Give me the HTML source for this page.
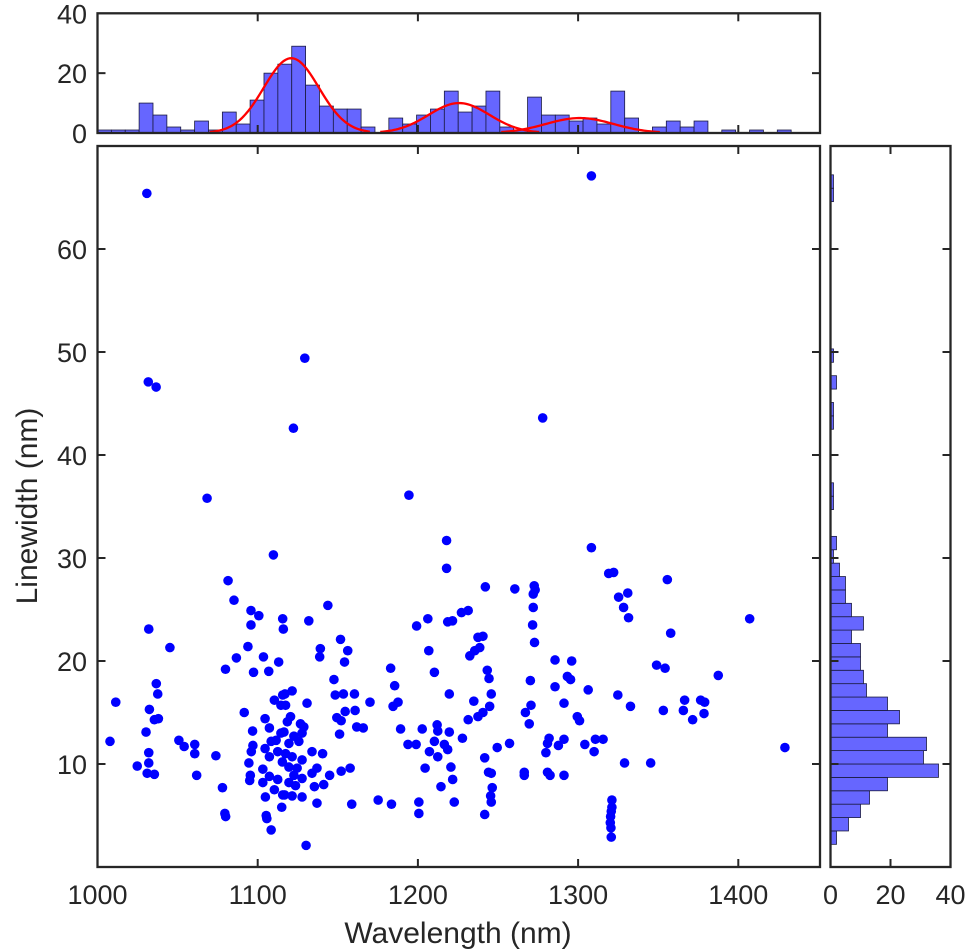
<!DOCTYPE html>
<html><head><meta charset="utf-8"><style>
html,body{margin:0;padding:0;background:#fff;}
svg{display:block;font-family:"Liberation Sans",Arial,sans-serif;}
</style></head><body>
<svg id="chart" width="969" height="952" viewBox="0 0 969 952">
<g id="top"></g>
<g id="main"></g>
<g id="side"></g>
<g id="axes"></g>
</svg>
<script>
const wavelength = [
1109.8,1081.5,1085.2,1095.8,1100.7,1095.8,1032,1045.2,1093.9,1086.7,1103.6,1113.1,1079.9,1097.4,1106.9,1036.7,1037.6,1011.4,1032.4,1091.6,1035.5,1038,1110.4,1114.5,1104.6,1030.3,1096.8,1107.3,1007.8,1050.8,1054.1,1060.7,1060.7,1032,1073.9,1097,1096,1104.6,1108.4,1111.5,1107.3,1032,1024.8,1031,1035.5,1061.9,1094.5,1095.4,1095,1103.2,1103.2,1107.3,1110.4,1112.5,1078,1104.8,1115.6,1079.5,1080,1105.3,1105.7,1108.4,1115,1115.6,1116,1115.6,1114.5,1112.5,
1143.8,1131.9,1151.7,1139.1,1138.7,1156.2,1154.2,1147.6,1121.5,1117,1148.4,1153.5,1160.4,1170.1,1130.8,1117.4,1154.6,1160.8,1149.4,1152.1,1120.5,1118.5,1126.7,1128.8,1161.8,1165.9,1151.1,1116.4,1122.6,1127.7,1119.5,1125.7,1133.9,1140.5,1117.4,1121.5,1127.7,1115.4,1119.5,1124.6,1137,1133.9,1122.6,1127.7,1144.9,1152.1,1157.7,1119.5,1123.6,1135.4,1141.2,1116.8,1121.5,1127.7,1137,1158.7,1175.2,1183.5,1130.2,1183,1185.5,1187.6,1184.5,1189.2,1193.8,1198.9,1202.7,1199.2,1206.2,1206.8,1210.3,1219.6,1217.9,1217.9,1218.6,1221.6,1212,1212.4,1219.6,1210.3,1216.5,1207.2,1212.4,1218.6,1204.5,1220.6,1221.7,1214.4,1200.6,1200.6,1222.7,
1231.4,1227.2,1242.1,1260.5,1272.6,1273.2,1272,1272,1271.6,1272.8,1308.3,1319.1,1322.2,1331,1325.3,1328.4,1331.5,1237.5,1240.6,1238.6,1235.5,1232.4,1285.6,1296,1243.3,1244.4,1270.2,1285.6,1293.3,1295.3,1306.3,1324.8,1332.7,1245.8,1234.9,1244.8,1240.6,1237.5,1231.4,1270.6,1267.1,1269.5,1291.2,1299.5,1300.9,1227.8,1257.2,1249.5,1241.7,1281.9,1280.9,1279.9,1287.7,1291.2,1304.2,1310.8,1315.6,1310,1329,1244.1,1245.8,1266.4,1266.4,1280.9,1282.5,1291.2,1246.4,1245.4,1245.8,1241.7,1321.1,1321.1,1320.7,1320.3,1320.1,1320.5,1320.7,
1355.7,1407.1,1357.8,1349,1354.3,1387.5,1353.2,1366.5,1376.5,1379,1365.7,1378.6,1371.5,1429.1,1345.3,
1030.8,1308.3,1031.7,1036.6,1129.4,1122.3,1277.9,1068.4,1194.4
];
const linewidth = [
30.3,27.8,25.9,24.9,24.4,23.5,23.1,21.3,21.4,20.3,20.4,19.9,19.2,18.9,19.0,17.8,16.8,16.0,15.3,15.0,14.3,14.4,16.2,15.7,14.4,13.1,13.2,13.5,12.2,12.3,11.7,11.9,11.0,11.1,10.8,11.8,11.2,11.5,12.2,12.3,10.7,10.1,9.8,9.1,9.0,8.9,10.1,8.9,8.4,9.5,8.2,8.8,7.5,8.5,7.7,6.8,7.0,5.2,4.9,5.0,4.7,3.6,5.8,24.1,23.1,16.7,13.0,11.2,
25.4,23.9,22.1,21.2,20.4,21.0,19.9,18.2,17.1,16.8,16.7,16.8,16.8,16.0,15.9,15.7,15.1,15.2,14.5,14.2,14.6,14.1,13.9,13.6,13.6,13.5,12.9,13.1,12.7,13.0,12.0,12.2,11.2,11.0,11.0,10.7,10.4,10.2,9.7,9.6,9.6,9.1,8.9,8.6,8.9,9.3,9.6,8.2,7.9,7.8,8.0,7.0,6.9,6.8,6.2,6.1,6.5,6.1,2.1,19.3,17.6,16.0,15.6,13.4,11.9,11.9,13.4,23.4,24.1,21.0,18.9,16.8,31.7,29.0,23.8,23.9,13.8,13.2,13.1,12.2,11.9,11.2,10.7,11.4,9.6,9.7,8.5,7.8,6.3,5.2,6.3,
24.9,24.7,27.2,27.0,27.3,26.9,26.5,25.2,23.5,21.8,31.0,28.5,28.6,26.6,26.2,25.2,24.2,22.3,22.4,21.3,21.0,20.5,20.1,20.0,19.1,18.3,18.1,17.5,18.5,18.2,17.2,16.7,15.6,16.8,16.1,15.6,15.0,14.6,14.3,15.7,15.0,13.9,15.9,14.6,14.2,12.5,12.0,11.6,10.6,12.5,12.0,11.1,11.8,12.4,11.9,12.4,12.4,11.2,10.1,9.2,9.1,9.2,8.9,9.2,8.9,8.9,7.7,6.9,6.3,5.1,6.5,5.8,5.4,4.9,4.3,3.8,2.9,
27.9,24.1,22.7,19.6,19.3,18.6,15.2,16.2,16.2,16.0,15.2,14.9,14.3,11.6,10.1,
65.4,67.1,47.1,46.6,49.4,42.6,43.6,35.8,36.1
];
const topCounts = [1,1,1,10,6,2,1,4,1,7,3,11,20,23,29,16,9,8,8,2,0,5,3,6,8,14,7,9,14,2,1,12,6,6,4,5,3,14,5,0,2,4,2,4,0,1,0,1,0,1];
const sideCounts = [2,6,10,13,19,36,31,32,19,23,19,12,11,10,10,7,11,7,5,5,3,1,2,0,0,1,1,0,0,0,0,1,1,0,2,0,1,0,0,0,0,0,0,0,0,0,0,0,1,1];
const fitCenters = [1121,1225.7,1301];
const fitHeights = [25,10,5];
const fitSigmas = [17.2,19,21];
const fitStarts = [1070,1176.5,1252];
const fitEnds = [1170,1275.7,1351];
const xTicks = [1000,1100,1200,1300,1400];
const yTicks = [10,20,30,40,50,60];
const topYTicks = [0,20,40];
const sideXTicks = [0,20,40];

const NS='http://www.w3.org/2000/svg';
const X0=97.5,X1=820,XMIN=1000,XMAX=1451;
const sx=v=>X0+(v-XMIN)/(XMAX-XMIN)*(X1-X0);
const MY0=867,MY1=146,YMIN=0,YMAX=70;
const sy=v=>MY0-(v-YMIN)/(YMAX-YMIN)*(MY0-MY1);
const TY0=133,TY1=13.3;
const ty=v=>TY0-v/40*(TY0-TY1);
const SX0=830.5,SX1=950.5;
const ssx=v=>SX0+v/40*(SX1-SX0);
const topBinLo=1000,topBinW=8.66;
const sideBinLo=2.2,sideBinW=1.3;

function mk(tag,attrs,parent){const e=document.createElementNS(NS,tag);for(const k in attrs)e.setAttribute(k,attrs[k]);parent.appendChild(e);return e;}
const gTop=document.getElementById('top'),gMain=document.getElementById('main'),gSide=document.getElementById('side'),gAx=document.getElementById('axes');

topCounts.forEach((c,i)=>{
  if(c<=0)return;
  const r=mk('rect',{x:sx(topBinLo+i*topBinW),y:ty(c),width:sx(topBinLo+(i+1)*topBinW)-sx(topBinLo+i*topBinW),height:ty(0)-ty(c),fill:'#6666ff',stroke:'#1a1a40','stroke-width':0.8},gTop);
  
  
});
fitCenters.forEach((c,k)=>{
  let d='';
  for(let i=0;i<=80;i++){const v=fitStarts[k]+(fitEnds[k]-fitStarts[k])*i/80;const h=fitHeights[k]*Math.exp(-0.5*Math.pow((v-c)/fitSigmas[k],2));d+=(i?'L':'M')+sx(v).toFixed(2)+' '+ty(h).toFixed(2);}
  const p=mk('path',{d:d,fill:'none',stroke:'#ff0000','stroke-width':2.3},gTop);
  
  
});
wavelength.forEach((w,i)=>{
  const c=mk('circle',{cx:sx(w),cy:sy(linewidth[i]),r:4.8,fill:'#0000ff'},gMain);
  
  
});
sideCounts.forEach((c,i)=>{
  if(c<=0)return;
  const yTop=sy(sideBinLo+(i+1)*sideBinW),yBot=sy(sideBinLo+i*sideBinW);
  const r=mk('rect',{x:ssx(0),y:yTop,width:ssx(c)-ssx(0),height:yBot-yTop,fill:'#6666ff',stroke:'#1a1a40','stroke-width':0.8},gSide);
  
  
});

const AX='#262626',TL=8;
function box(x0,y0,x1,y1,name){const r=mk('rect',{x:x0,y:y0,width:x1-x0,height:y1-y0,fill:'none',stroke:AX,'stroke-width':2.3},gAx);}
function line(x1,y1,x2,y2){mk('line',{x1:x1,y1:y1,x2:x2,y2:y2,stroke:AX,'stroke-width':2},gAx);}
function text(x,y,s,anchor,name){const t=mk('text',{x:x,y:y,'text-anchor':anchor,'font-size':27,fill:'#262626'},gAx);t.textContent=s;return t;}

box(X0,TY1,X1,TY0,'top-histogram-frame');
box(X0,MY1,X1,MY0,'main-plot-frame');
box(SX0,MY1,SX1,MY0,'side-histogram-frame');

xTicks.forEach(v=>{const x=sx(v);
  if(v>XMIN){line(x,MY0,x,MY0-TL);line(x,MY1,x,MY1+TL);line(x,TY0,x,TY0-TL);line(x,TY1,x,TY1+TL);}
  text(x,904,String(v),'middle','x-tick-label');
});
yTicks.forEach(v=>{const y=sy(v);
  line(X0,y,X0+TL,y);line(X1,y,X1-TL,y);line(SX0,y,SX0+TL,y);line(SX1,y,SX1-TL,y);
  text(87,y+10,String(v),'end','y-tick-label');
});
topYTicks.forEach(v=>{const y=ty(v);
  if(v===20){line(X0,y,X0+TL,y);line(X1,y,X1-TL,y);}
  text(87,y+10,String(v),'end','top-histogram-y-tick-label');
});
sideXTicks.forEach(v=>{const x=ssx(v);
  if(v===20){line(x,MY0,x,MY0-TL);line(x,MY1,x,MY1+TL);}
  text(x,904,String(v),'middle','side-histogram-x-tick-label');
});
const xt=mk('text',{x:458,y:943,'text-anchor':'middle','font-size':30,fill:'#262626'},gAx);
xt.textContent='Wavelength (nm)';


const yt=mk('text',{x:0,y:0,'text-anchor':'middle','font-size':30,fill:'#262626',transform:'translate(37,506) rotate(-90)'},gAx);
yt.textContent='Linewidth (nm)';


</script>
</body></html>
